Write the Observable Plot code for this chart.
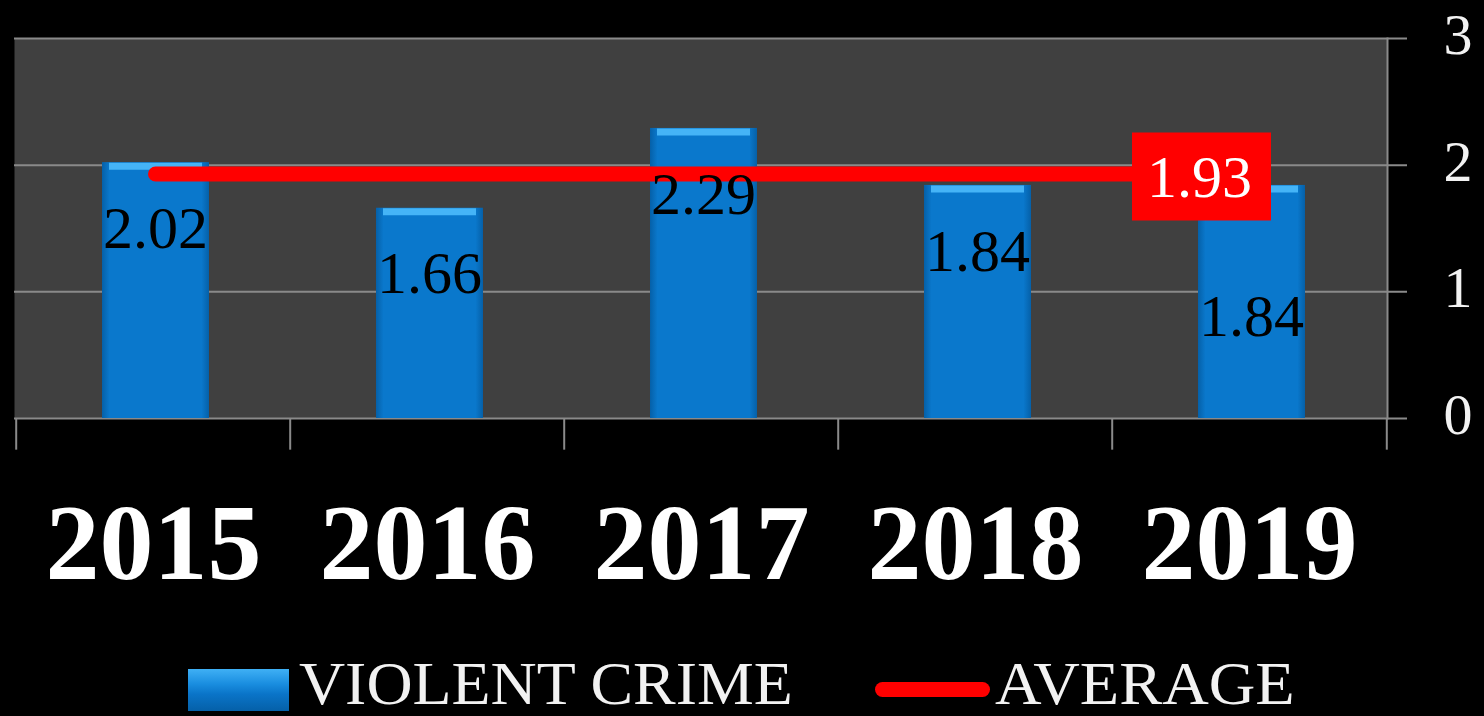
<!DOCTYPE html>
<html>
<head>
<meta charset="utf-8">
<script src="https://cdn.jsdelivr.net/npm/d3@7"></script>
<script src="https://cdn.jsdelivr.net/npm/@observablehq/plot@0.6"></script>
<style>
  html, body { margin: 0; padding: 0; background: #000; width: 1484px; height: 716px; overflow: hidden; }
  #chart svg { display: block; }
  #legend { position: relative; height: 76px; font-family: "Liberation Serif", serif; color: #f2f2f2; }
  .lg { position: absolute; }
  .txt { font-size: 62px; line-height: 62px; top: 12px; transform-origin: left center; white-space: nowrap; }
</style>
</head>
<body>
<div id="chart"></div>
<div id="legend">
  <div class="lg" style="left:188px; top:29px; width:101px; height:42px; background: linear-gradient(to bottom, #3fb0f5 0%, #1a8ee0 35%, #0a74c8 60%, #0560a8 100%);"></div>
  <div class="lg txt" style="left:299px; transform: scaleX(1.03);">VIOLENT CRIME</div>
  <div class="lg" style="left:875px; top:42px; width:115px; height:15px; border-radius:8px; background:#ff0000;"></div>
  <div class="lg txt" style="left:995px; transform: scaleX(1.04);">AVERAGE</div>
</div>
<script>
const years = ["2015", "2016", "2017", "2018", "2019"];
const violentCrime = [2.02, 1.66, 2.29, 1.84, 1.84];
const average = [1.93, 1.93, 1.93, 1.93, 1.93];
const yTicks = [0, 1, 2, 3];

const data = years.map((year, i) => ({ year, value: violentCrime[i], avg: average[i] }));

const W = 1484, H = 640, mL = 14, mR = 97, mT = 38, mB = 222;
const bw = (W - mL - mR) / years.length;
const grid = "#8a8a8a";

const svg = Plot.plot({
  width: W, height: H,
  marginLeft: mL, marginRight: mR, marginTop: mT, marginBottom: mB,
  style: { background: "#000", color: "#f2f2f2", fontFamily: "Liberation Serif, serif" },
  x: { domain: years, padding: 0, label: null },
  y: { domain: [0, 3], label: null },
  marks: [
    Plot.frame({ fill: "#404040", stroke: null }),
    Plot.ruleY(yTicks, { stroke: grid, strokeWidth: 2, insetRight: -20 }),
    Plot.frame({ anchor: "right", stroke: grid, strokeWidth: 2 }),
    Plot.ruleX(years, { x: d => d, y1: 0, y2: -0.25, dx: -bw / 2, stroke: grid, strokeWidth: 2 }),
    Plot.ruleX(years.slice(-1), { x: d => d, y1: -0.25, y2: 0, dx: bw / 2, stroke: grid, strokeWidth: 2 }),
    Plot.axisY({ anchor: "right", ticks: yTicks, tickSize: 0, tickPadding: 56, fontSize: 58, dy: -3, label: null, tickFormat: d => String(d), fill: "#f2f2f2" }),
    Plot.axisX({ tickSize: 0, tickPadding: 84, fontSize: 108, fontWeight: "bold", label: null, fill: "#ffffff" }),
    Plot.barY(data, { x: "year", y: "value", fill: "url(#barGrad)", insetLeft: 86, insetRight: 81 }),
    Plot.tickY(data, { x: "year", y: "value", stroke: "#45b4f7", strokeWidth: 7, dy: 3.5, insetLeft: 93, insetRight: 88 }),
    Plot.lineY(data, { x: "year", y: "avg", stroke: "#ff0000", strokeWidth: 15, strokeLinecap: "round", dx: 2 }),
    Plot.tickY(data.slice(-1), { x: "year", y: "avg", stroke: "#ff0000", strokeWidth: 88, dy: 2.5, insetLeft: 20, insetRight: 115 }),
    Plot.text(data.slice(-1), { x: "year", y: "avg", text: d => d.avg.toFixed(2), dx: -50, dy: 4, fontSize: 60, fill: "#ffffff" }),
    Plot.text(data.slice(0, 4), { x: "year", y: "value", text: d => d.value.toFixed(2), dx: 2, dy: 66, fontSize: 60, fill: "#000000" }),
    Plot.text(data.slice(-1), { x: "year", y: "value", text: d => d.value.toFixed(2), dx: 2, dy: 131, fontSize: 60, fill: "#000000" })
  ]
});

const defs = d3.select(svg).insert("defs", ":first-child");
const g = defs.append("linearGradient").attr("id", "barGrad").attr("x1", 0).attr("x2", 1).attr("y1", 0).attr("y2", 0);
[[0, "#0560a8"], [0.07, "#0a78cc"], [0.93, "#0a78cc"], [1, "#0560a8"]].forEach(([o, c]) =>
  g.append("stop").attr("offset", o).attr("stop-color", c));

document.getElementById("chart").appendChild(svg);
</script>
</body>
</html>
